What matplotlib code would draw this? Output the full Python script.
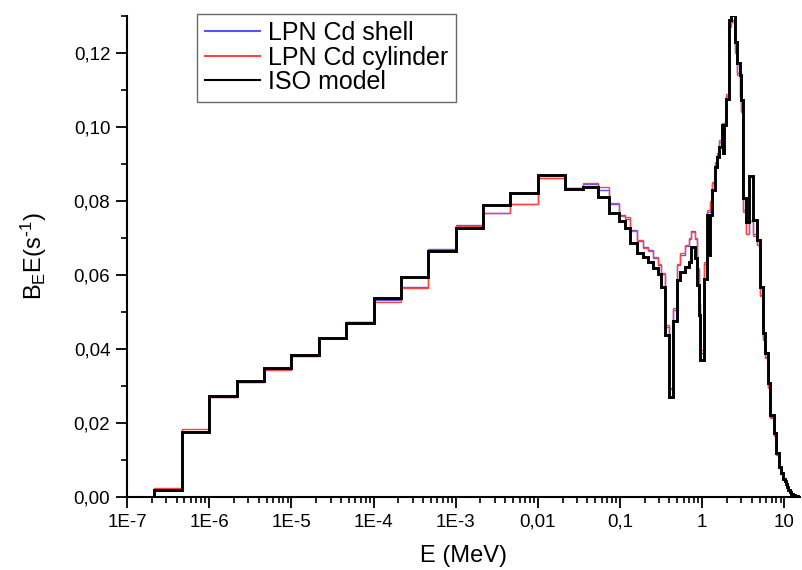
import numpy as np
import matplotlib
matplotlib.use('Agg')
import matplotlib.pyplot as plt
from matplotlib.ticker import FixedLocator, MultipleLocator, LogLocator, NullFormatter

plt.rcParams['font.family'] = ['Liberation Sans', 'DejaVu Sans']
plt.rcParams['mathtext.default'] = 'regular'

# bin edges (MeV)
edges = [1e-7, 2.15e-7, 4.64e-7, 1e-6, 2.15e-6, 4.64e-6, 1e-5, 2.15e-5, 4.64e-5,
         1e-4, 2.15e-4, 4.64e-4, 1e-3, 2.15e-3, 4.64e-3, 1e-2, 2.15e-2,
         0.035, 0.054, 0.0736, 0.0966, 0.114, 0.134, 0.16, 0.191, 0.22, 0.253,
         0.291, 0.311, 0.351, 0.396, 0.443, 0.494, 0.544, 0.614, 0.693, 0.741,
         0.813, 0.867, 0.917, 0.953, 1.045, 1.13, 1.17, 1.25, 1.33, 1.42, 1.50,
         1.58, 1.72, 1.79, 1.86, 1.94, 2.12, 2.27, 2.49, 2.66, 2.92, 3.0, 3.15,
         3.46, 3.75, 4.16, 4.65, 5.02, 5.51, 5.89, 6.34, 6.78, 7.43, 8.02, 8.61,
         9.2, 9.63, 10.1, 10.45, 10.8, 11.2, 11.6, 12.2, 12.8, 13.6, 14.5, 15.5]

iso = [0, 0.0019, 0.01765, 0.0273, 0.0314, 0.0349, 0.0384, 0.0429, 0.0471,
       0.0537, 0.0594, 0.0666, 0.0728, 0.0789, 0.0822, 0.0869,
       0.0832, 0.0837, 0.0810, 0.0768, 0.0747, 0.0726, 0.0687, 0.0660, 0.0650,
       0.0636, 0.0618, 0.0603, 0.0568, 0.0438, 0.0271, 0.0477, 0.0586, 0.0609,
       0.0622, 0.0636, 0.0676, 0.0645, 0.0573, 0.0492, 0.0370, 0.0590, 0.0762,
       0.0654, 0.0762, 0.0830, 0.0893, 0.0920, 0.0947, 0.1005, 0.0930, 0.1005,
       0.1075, 0.1290, 0.1302, 0.1230, 0.1172, 0.1140, 0.1073, 0.0807, 0.0744,
       0.0868, 0.0749, 0.0695, 0.0568, 0.0442, 0.0388, 0.0307, 0.0222, 0.0172,
       0.0118, 0.0082, 0.0064, 0.0050, 0.0043, 0.0034, 0.0026, 0.0019, 0.0013,
       0.0008, 0.0005, 0.0002, 0.00005]

lpn_shell = [0, 0.0020, 0.0176, 0.0271, 0.0312, 0.0346, 0.0382, 0.0430, 0.0474,
             0.0532, 0.0568, 0.0670, 0.0735, 0.0768, 0.0792, 0.0863,
             0.0834, 0.0847, 0.0830, 0.0792, 0.0762, 0.0750, 0.0722, 0.0692, 0.0675,
             0.0667, 0.0645, 0.0628, 0.0603, 0.0460, 0.0292, 0.0505, 0.0627, 0.0655,
             0.0678, 0.0697, 0.0719, 0.0697, 0.0614, 0.0520, 0.0390, 0.0630, 0.0770,
             0.0770, 0.0795, 0.0848, 0.0900, 0.0928, 0.0960, 0.1008, 0.0998, 0.1010,
             0.1085, 0.1275, 0.1290, 0.1205, 0.1145, 0.1085, 0.1045, 0.0775, 0.0710,
             0.0745, 0.0710, 0.0682, 0.0545, 0.0428, 0.0378, 0.0298, 0.0215, 0.0168,
             0.0115, 0.0080, 0.0062, 0.0049, 0.0042, 0.0033, 0.0025, 0.0018, 0.0013,
             0.0008, 0.0005, 0.0002, 0.00005]

lpn_cyl = [0, 0.0025, 0.0184, 0.0269, 0.0311, 0.0344, 0.0380, 0.0429, 0.0473,
           0.0528, 0.0566, 0.0668, 0.0732, 0.0767, 0.0791, 0.0861,
           0.0834, 0.0849, 0.0837, 0.0794, 0.0760, 0.0757, 0.0720, 0.0695, 0.0672,
           0.0665, 0.0648, 0.0630, 0.0605, 0.0465, 0.0295, 0.0510, 0.0630, 0.0659,
           0.0680, 0.0699, 0.0717, 0.0699, 0.0618, 0.0523, 0.0397, 0.0636, 0.0775,
           0.0775, 0.0800, 0.0850, 0.0905, 0.0930, 0.0965, 0.1010, 0.1000, 0.1012,
           0.1090, 0.1270, 0.1285, 0.1200, 0.1140, 0.1080, 0.1040, 0.0770, 0.0712,
           0.0745, 0.0706, 0.0680, 0.0543, 0.0425, 0.0375, 0.0295, 0.0213, 0.0165,
           0.0113, 0.0079, 0.0061, 0.0048, 0.0041, 0.0032, 0.0025, 0.0018, 0.0012,
           0.0008, 0.0005, 0.0002, 0.00005]

xticks = [1e-7, 1e-6, 1e-5, 1e-4, 1e-3, 1e-2, 1e-1, 1, 10]
xticklabels = ['1E-7', '1E-6', '1E-5', '1E-4', '1E-3', '0,01', '0,1', '1', '10']
yticks = [0, 0.02, 0.04, 0.06, 0.08, 0.10, 0.12]
yticklabels = ['0,00', '0,02', '0,04', '0,06', '0,08', '0,10', '0,12']

fig = plt.figure(figsize=(8.02, 5.70), dpi=100)
ax = fig.add_axes([0.1584, 0.128, 0.8391, 0.844])

ax.stairs(lpn_shell, edges, color='#5555ff', lw=1.0, label='LPN Cd shell')
ax.stairs(lpn_cyl, edges, color='#ff4444', lw=1.0, label='LPN Cd cylinder')
ax.stairs(iso, edges, color='black', lw=2.1, label='ISO model')

ax.set_xscale('log')
ax.set_xlim(1e-7, 15.5)
ax.set_ylim(0, 0.13)

ax.xaxis.set_major_locator(FixedLocator(xticks))
ax.set_xticklabels(xticklabels)
ax.xaxis.set_minor_locator(LogLocator(base=10, subs=np.arange(2, 10), numticks=20))
ax.xaxis.set_minor_formatter(NullFormatter())
ax.set_yticks(yticks)
ax.set_yticklabels(yticklabels)
ax.yaxis.set_minor_locator(MultipleLocator(0.01))

for s in ['top', 'right']:
    ax.spines[s].set_visible(False)
for s in ['left', 'bottom']:
    ax.spines[s].set_linewidth(1.5)

ax.tick_params(which='major', direction='out', length=8, width=1.3, labelsize=13.5, pad=4)
ax.tick_params(which='minor', direction='out', length=4.5, width=1.2)

ax.set_xlabel('E (MeV)', fontsize=17, labelpad=10)
ax.set_ylabel(r'B$_{E}$E(s$^{\text{-}1}$)', fontsize=17, labelpad=18)

leg = ax.legend(loc='upper left', bbox_to_anchor=(0.104, 1.005), fontsize=18,
                frameon=True, fancybox=False, handlelength=2.2, labelspacing=0.02,
                borderaxespad=0, handletextpad=0.35, borderpad=0.3)
leg.get_frame().set_edgecolor('#444444')
leg.get_frame().set_linewidth(1.0)
for line in leg.get_lines():
    line.set_linewidth(1.5)

fig.savefig('out.png', dpi=100)
